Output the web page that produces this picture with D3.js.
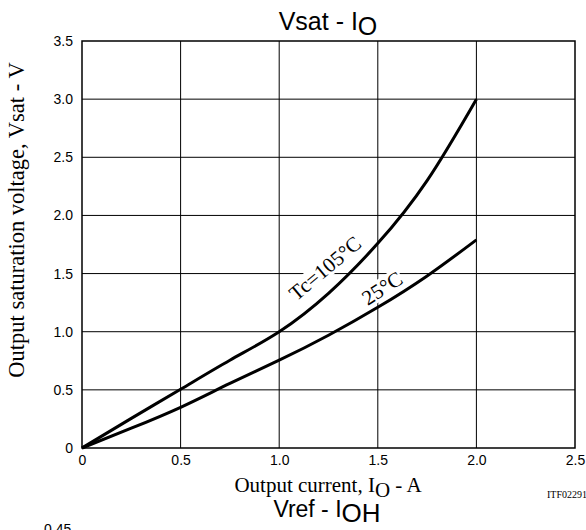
<!DOCTYPE html>
<html><head><meta charset="utf-8">
<script src="https://cdn.jsdelivr.net/npm/d3@7"></script>
<style>body{margin:0;background:#fff;overflow:hidden}svg{display:block}</style>
</head><body>
<script>
const currentA = [0, 0.25, 0.5, 0.75, 1.0, 1.25, 1.5, 1.75, 2.0];
const vsat105 = [0, 0.255, 0.505, 0.755, 1.0, 1.33, 1.76, 2.3, 3.0];
const vsat25  = [0, 0.17, 0.35, 0.555, 0.755, 0.97, 1.21, 1.48, 1.79];
const xTicks = [0, 0.5, 1.0, 1.5, 2.0, 2.5];
const yTicks = [0, 0.5, 1.0, 1.5, 2.0, 2.5, 3.0, 3.5];
const xTickLabels = ["0", "0.5", "1.0", "1.5", "2.0", "2.5"];
const yTickLabels = ["0", "0.5", "1.0", "1.5", "2.0", "2.5", "3.0", "3.5"];

const W = 586, H = 530;
const svg = d3.select("body").append("svg").attr("width", W).attr("height", H);
const x = d3.scaleLinear().domain([0, 2.5]).range([82, 575]);
const y = d3.scaleLinear().domain([0, 3.5]).range([448, 41]);
const sans = "Liberation Sans, Arial, sans-serif";
const serif = "Liberation Serif, Times New Roman, serif";

// grid
const g = svg.append("g");
g.selectAll("line.v").data(xTicks.slice(1, -1)).enter().append("line")
  .attr("x1", d => x(d)).attr("x2", d => x(d)).attr("y1", y(0)).attr("y2", y(3.5))
  .attr("stroke", "#000").attr("stroke-width", 1);
g.selectAll("line.h").data(yTicks.slice(1, -1)).enter().append("line")
  .attr("y1", d => y(d)).attr("y2", d => y(d)).attr("x1", x(0)).attr("x2", x(2.5))
  .attr("stroke", "#000").attr("stroke-width", 1);
svg.append("rect").attr("x", x(0)).attr("y", y(3.5)).attr("width", x(2.5) - x(0)).attr("height", y(0) - y(3.5))
  .attr("fill", "none").attr("stroke", "#000").attr("stroke-width", 1.5);

// axes labels via d3 axes (no tick lines)
const xa = svg.append("g").attr("transform", `translate(0,${y(0)})`)
  .call(d3.axisBottom(x).tickValues(xTicks).tickFormat((d, i) => xTickLabels[i]).tickSize(0).tickPadding(7));
const ya = svg.append("g").attr("transform", `translate(${x(0)},0)`)
  .call(d3.axisLeft(y).tickValues(yTicks).tickFormat((d, i) => yTickLabels[i]).tickSize(0).tickPadding(9));
[xa, ya].forEach(a => {
  a.select(".domain").remove();
  a.selectAll("text").attr("font-family", sans).attr("font-size", 14).attr("fill", "#000");
});

// curve labels with white halo
function label(txt, cx, cy, rot) {
  const lg = svg.append("g").attr("transform", `translate(${cx},${cy}) rotate(${rot})`);
  const t = lg.append("text").attr("text-anchor", "middle").attr("dy", "0.35em")
    .attr("font-family", serif).attr("font-size", 21).text(txt);
  const b = t.node().getBBox();
  lg.insert("rect", "text").attr("x", b.x - 1).attr("y", b.y + 2).attr("width", b.width + 2).attr("height", b.height - 4)
    .attr("fill", "#fff");
}
label("Tc=105°C", 325, 268, -40);
label("25°C", 382, 288, -33);

// curves
const line = d3.line().x(d => x(d[0])).y(d => y(d[1])).curve(d3.curveNatural);
[vsat105, vsat25].forEach(s => {
  svg.append("path").datum(currentA.map((c, i) => [c, s[i]])).attr("d", line)
    .attr("fill", "none").attr("stroke", "#000").attr("stroke-width", 3);
});

// titles
const t1 = svg.append("text").attr("x", 328).attr("y", 30).attr("text-anchor", "middle")
  .attr("font-family", sans).attr("font-size", 25);
t1.append("tspan").text("Vsat - I");
t1.append("tspan").attr("dy", 5).text("O");

const xt = svg.append("text").attr("x", 328).attr("y", 492).attr("text-anchor", "middle")
  .attr("font-family", serif).attr("font-size", 21);
xt.append("tspan").text("Output current, I");
xt.append("tspan").attr("dy", 5).text("O");
xt.append("tspan").attr("dy", -5).text(" - A");

svg.append("text").attr("transform", "translate(24,220) rotate(-90)").attr("text-anchor", "middle")
  .attr("font-family", serif).attr("font-size", 22.5).text("Output saturation voltage, Vsat - V");

svg.append("text").attr("x", 547).attr("y", 498).attr("font-family", serif).attr("font-size", 10).text("ITF02291");

const t2 = svg.append("text").attr("x", 327).attr("y", 517).attr("text-anchor", "middle")
  .attr("font-family", sans).attr("font-size", 23);
t2.append("tspan").text("Vref - I");
t2.append("tspan").attr("dy", 5).attr("font-size", 26).text("OH");

svg.append("text").attr("x", 44).attr("y", 534).attr("font-family", sans).attr("font-size", 14).text("0.45");
</script>
</body></html>
